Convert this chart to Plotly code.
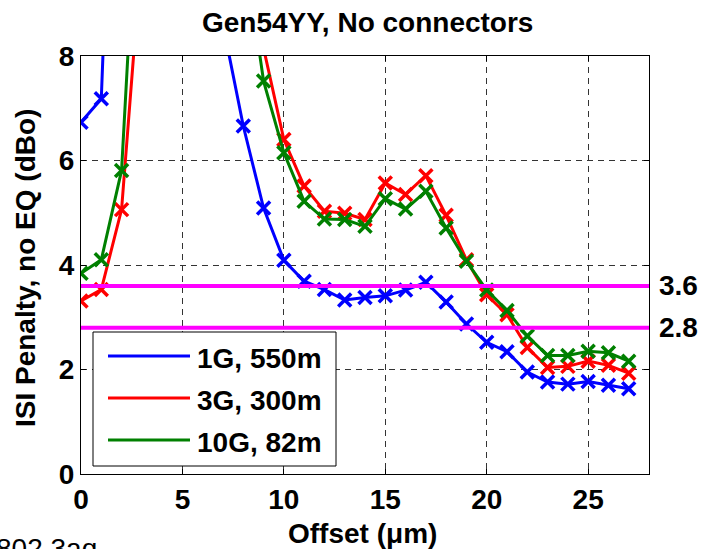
import plotly.graph_objects as go

# ---------------- data ----------------
offset_um = list(range(0, 28))
series_names = ["1G, 550m", "3G, 300m", "10G, 82m"]
series_colors = ["#0000FF", "#FF0000", "#008000"]
penalty_1g = [6.73, 7.18, 17.4, 26, 30, 26, 15, 8.6, 6.66, 5.09, 4.09, 3.69, 3.53, 3.33,
              3.38, 3.41, 3.52, 3.67, 3.29, 2.87, 2.52, 2.34, 1.95, 1.76, 1.72, 1.77, 1.70, 1.63]
penalty_3g = [3.31, 3.53, 5.06, 10.4, 16, 20, 22, 20, 12, 8.15, 6.40, 5.51, 5.03, 4.99,
              4.87, 5.57, 5.35, 5.71, 4.95, 4.10, 3.43, 3.05, 2.42, 2.04, 2.06, 2.16, 2.08, 1.93]
penalty_10g = [3.84, 4.10, 5.81, 14.6, 20, 24, 25, 20, 10.2, 7.52, 6.15, 5.22, 4.88, 4.87,
               4.74, 5.27, 5.07, 5.41, 4.71, 4.07, 3.52, 3.13, 2.64, 2.27, 2.27, 2.35, 2.32, 2.16]
thresholds = [3.6, 2.8]
threshold_labels = ["3.6", "2.8"]
x_ticks = [0, 5, 10, 15, 20, 25]
y_ticks = [0, 2, 4, 6, 8]

W, H = 704, 549
ML, MR, MT, MB = 81, 55, 56, 75
PW, PH = W - ML - MR, H - MT - MB
FONT = "Liberation Sans, Arial, sans-serif"
FS = 28


def px_x(X):
    return (X - ML) / PW


def px_y(Y):
    return (H - MB - Y) / PH


fig = go.Figure()
all_series = [penalty_1g, penalty_3g, penalty_10g]
for name, col, vals in zip(series_names, series_colors, all_series):
    fig.add_trace(go.Scatter(
        x=offset_um, y=vals, mode="lines+markers", name=name, showlegend=False,
        line=dict(color=col, width=3),
        marker=dict(symbol="x-thin", size=13, line=dict(color=col, width=3.5), color=col),
        cliponaxis=True,
    ))

for t, lab in zip(thresholds, threshold_labels):
    fig.add_hline(y=t, line=dict(color="#FF00FF", width=4), layer="above")
    fig.add_annotation(x=1, xref="paper", y=t, yref="y", xanchor="left", yanchor="middle",
                       xshift=8, text=lab, showarrow=False,
                       font=dict(family=FONT, size=FS, color="black", weight="bold"))

# legend (drawn manually to reproduce long line samples)
fig.add_shape(type="rect", xref="paper", yref="paper",
              x0=px_x(93), x1=px_x(336), y0=px_y(466), y1=px_y(332),
              line=dict(color="black", width=1), fillcolor="white", layer="above")
leg_y = [356, 398, 440]
for name, col, ly in zip(series_names, series_colors, leg_y):
    fig.add_shape(type="line", xref="paper", yref="paper",
                  x0=px_x(108), x1=px_x(190), y0=px_y(ly), y1=px_y(ly),
                  line=dict(color=col, width=3), layer="above")
    fig.add_annotation(x=px_x(195), y=px_y(ly + 2), xref="paper", yref="paper",
                       xanchor="left", yanchor="middle", text=name, showarrow=False,
                       font=dict(family=FONT, size=FS, color="black", weight="bold"))

# titles
fig.add_annotation(x=px_x(367), y=px_y(23), xref="paper", yref="paper",
                   xanchor="center", yanchor="middle", text="Gen54YY, No connectors",
                   showarrow=False, font=dict(family=FONT, size=FS, color="black", weight="bold"))
fig.add_annotation(x=px_x(362), y=px_y(533), xref="paper", yref="paper",
                   xanchor="center", yanchor="middle", text="Offset (μm)",
                   showarrow=False, font=dict(family=FONT, size=FS, color="black", weight="bold"))
fig.add_annotation(x=px_x(25), y=px_y(268), xref="paper", yref="paper",
                   xanchor="center", yanchor="middle", textangle=-90,
                   text="ISI Penalty, no EQ (dBo)",
                   showarrow=False, font=dict(family=FONT, size=FS, color="black", weight="bold"))
fig.add_annotation(x=px_x(-6), y=px_y(548), xref="paper", yref="paper",
                   xanchor="left", yanchor="middle", text="802.3aq",
                   showarrow=False, font=dict(family=FONT, size=FS, color="black"))

axis_common = dict(
    showline=True, linecolor="black", linewidth=1, mirror="ticks",
    ticks="inside", ticklen=5, tickcolor="black", tickwidth=1,
    showgrid=True, gridcolor="#333333", gridwidth=1, griddash="6px,5px",
    zeroline=False,
    tickfont=dict(family=FONT, size=FS, color="black", weight="bold"),
)
fig.update_xaxes(range=[0, 28], tickvals=x_ticks, ticktext=[str(v) for v in x_ticks], **axis_common)
fig.update_yaxes(range=[0, 8], tickvals=y_ticks, ticktext=[str(v) for v in y_ticks], **axis_common)

fig.update_layout(
    width=W, height=H, autosize=False,
    margin=dict(l=ML, r=MR, t=MT, b=MB, pad=0),
    paper_bgcolor="white", plot_bgcolor="white",
    showlegend=False,
    font=dict(family=FONT, size=FS, color="black"),
)

fig.write_html("out.html")
